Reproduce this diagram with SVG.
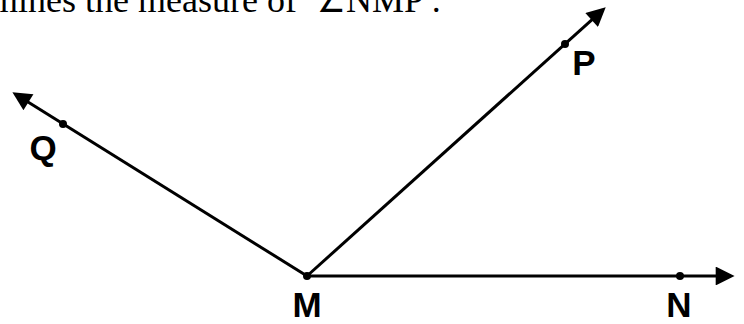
<svg xmlns="http://www.w3.org/2000/svg" width="744" height="324" viewBox="0 0 744 324">
<style>
.ray{stroke:#000;stroke-width:3;fill:none;marker-end:url(#ah)}
.dot{fill:#000}
.lbl{font-family:"Liberation Sans",Arial,sans-serif;font-weight:bold;font-size:35px;fill:#000;text-anchor:middle}
.cap{font-family:"Liberation Serif","Times New Roman",serif;font-size:36px;fill:#000}
</style>
<defs>
<marker id="ah" viewBox="0 0 10 10" refX="8" refY="5" markerWidth="7" markerHeight="6.3" markerUnits="strokeWidth" orient="auto">
<path d="M0,0 L10,5 L0,10 Z" fill="#000"/>
</marker>
</defs>
<text class="cap" x="297" y="12" text-anchor="end">mines the measure of</text>
<text class="cap" x="317" y="12"><tspan font-size="32">∠</tspan>NMP .</text>
<g id="connectors">
<line class="ray" x1="307" y1="276" x2="730.8" y2="276"/>
<line class="ray" x1="307" y1="276" x2="602.9" y2="9.8"/>
<line class="ray" x1="307" y1="276" x2="15.6" y2="94.2"/>
</g>
<g id="M"><circle class="dot" cx="307" cy="276" r="4"/><text class="lbl" x="307" y="317">M</text></g>
<g id="N"><circle class="dot" cx="680" cy="276" r="4"/><text class="lbl" x="679" y="317">N</text></g>
<g id="P"><circle class="dot" cx="565" cy="44" r="4"/><text class="lbl" x="584" y="75">P</text></g>
<g id="Q"><circle class="dot" cx="63" cy="124" r="4"/><text class="lbl" x="43" y="160">Q</text></g>
</svg>
